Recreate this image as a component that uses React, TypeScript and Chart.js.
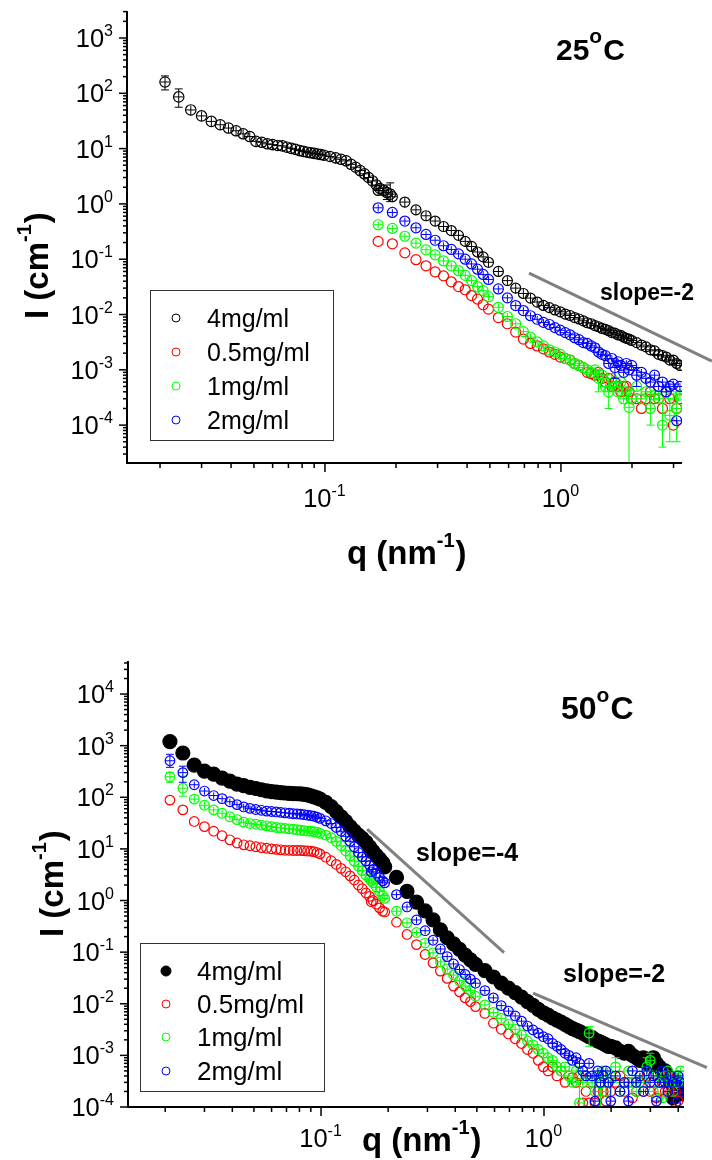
import React, { useEffect, useRef } from "react";
import { Chart, registerables } from "chart.js";
Chart.register(...registerables);

const FONT = '"Liberation Sans", Arial, Helvetica, sans-serif';

// ---------- data ----------
const qLow = [
  0.021, 0.024, 0.027, 0.030, 0.033, 0.036, 0.039, 0.042, 0.045, 0.048,
  0.051, 0.054, 0.057, 0.060, 0.063, 0.066, 0.069, 0.072, 0.075, 0.078,
  0.081, 0.084, 0.087, 0.090, 0.093, 0.096, 0.099, 0.105, 0.111, 0.117,
  0.123, 0.129, 0.135, 0.141, 0.147, 0.153, 0.159, 0.165, 0.171, 0.177,
  0.183, 0.189,
];
const qHigh = [
  0.168, 0.193, 0.218, 0.243, 0.268, 0.293, 0.318, 0.343, 0.368, 0.393,
  0.418, 0.443, 0.468, 0.493, 0.543, 0.593, 0.643, 0.693, 0.743, 0.793,
  0.843, 0.893, 0.943, 0.993, 1.043, 1.093, 1.143, 1.193, 1.243, 1.293,
  1.343, 1.393, 1.443, 1.493, 1.543, 1.593, 1.643, 1.693, 1.743, 1.793,
  1.843, 1.893, 1.943, 1.993, 2.093, 2.193, 2.293, 2.393, 2.493, 2.593,
  2.693, 2.793, 2.893, 2.993, 3.093, 3.193,
  3.293, 3.393, 3.493, 3.593, 3.693, 3.793, 3.893, 3.993, 4.093, 4.193,
];

// 25 °C
const top4Low = [
  160, 86, 50, 39, 31, 27, 23.5, 21, 18.5, 16.5,
  13.5, 13, 12.2, 11.8, 11.4, 11.2, 10.6, 10.1, 9.7, 9.2,
  8.9, 8.6, 8.4, 8.2, 8.0, 7.8, 7.6, 7.2, 6.8, 6.4,
  6.0, 5.2, 4.6, 4.0, 3.5, 3.0, 2.6, 2.2, 1.9, 1.75,
  1.6, 1.5,
];
const top4High = [
  1.75, 1.35, 1.08, 0.78, 0.61, 0.49, 0.39, 0.33, 0.27, 0.21,
  0.17, 0.135, 0.11, 0.088, 0.060, 0.041, 0.030, 0.024, 0.0198, 0.0168,
  0.0146, 0.0133, 0.0121, 0.0112, 0.0102, 0.0096, 0.0088, 0.0083, 0.0077, 0.0071,
  0.0068, 0.0063, 0.0060, 0.0056, 0.0054, 0.0051, 0.0047, 0.0046, 0.0043, 0.0042,
  0.0039, 0.0037, 0.0036, 0.0034, 0.0031, 0.0028, 0.0026, 0.0023, 0.0022, 0.0019,
  0.0018, 0.0017, 0.0015, 0.0015, 0.0013, 0.0012,
];
const top05High = [
  0.21, 0.19, 0.13, 0.098, 0.076, 0.059, 0.050, 0.039, 0.032, 0.028,
  0.022, 0.019, 0.015, 0.0125, 0.0088, 0.0068, 0.0048, 0.0036, 0.0030, 0.0027,
  0.0024, 0.0021, 0.0019, 0.0017, 0.0016, 0.0015, 0.0013, 0.0012, 0.0011, 0.0009,
  0.00085, 0.0008, 0.0009, 0.0007, 0.0006, 0.0007, 0.0005, 0.0006, 0.0005, 0.0004,
  0.0005, 0.0005, 0.0004, 0.0003, 0.0003, 0.0002, 0.0003, 0.0004, 0.0003, 0.0003,
  0.0002, 0.0004, 0.0003, 0.0001, 0.0002, 0.0003,
];
const top1High = [
  0.42, 0.36, 0.26, 0.195, 0.148, 0.12, 0.093, 0.076, 0.062, 0.051,
  0.041, 0.032, 0.027, 0.021, 0.0135, 0.0092, 0.0068, 0.0049, 0.0039, 0.0032,
  0.0027, 0.0023, 0.0021, 0.0019, 0.0016, 0.0015, 0.0013, 0.0012, 0.0011, 0.0010,
  0.0009, 0.0010, 0.0007, 0.0008, 0.0005, 0.0004, 0.0007, 0.0005, 0.0004, 0.0006,
  0.0003, 0.0004, 0.00021, 0.0003, 0.0005, 0.0003, 0.0004, 0.0002, 0.00035, 0.0003,
  0.0001, 0.0004, 0.00015, 0.0003, 0.0002, 0.00035,
];
const top2High = [
  0.85, 0.70, 0.49, 0.37, 0.28, 0.22, 0.175, 0.15, 0.125, 0.10,
  0.082, 0.066, 0.053, 0.043, 0.029, 0.020, 0.0145, 0.0118, 0.0095, 0.0082,
  0.0072, 0.0066, 0.0058, 0.0052, 0.0047, 0.0043, 0.0038, 0.0035, 0.0031, 0.0030,
  0.0027, 0.0025, 0.0021, 0.0019, 0.0018, 0.0013, 0.0016, 0.0011, 0.0014, 0.0012,
  0.0009, 0.0013, 0.0010, 0.0012, 0.0008, 0.0009, 0.0007, 0.0006, 0.0008, 0.0005,
  0.0006, 0.0004, 0.0005, 0.00055, 0.00012, 0.0005,
];

// 50 °C
const bot4Low = [
  1200, 720, 420, 320, 280, 235, 205, 180, 168, 156,
  148, 140, 133, 129, 126, 123, 121, 119, 118, 117,
  116, 114, 111, 106, 102, 97, 92, 80, 66, 53,
  42, 34, 27, 22, 18.5, 16, 13.5, 11, 9, 7.5,
  6.4, 5.4,
];
const bot4High = [
  9.0, 4.5, 2.8, 1.5, 0.93, 0.63, 0.42, 0.27, 0.19, 0.145,
  0.113, 0.088, 0.071, 0.058, 0.044, 0.033, 0.025, 0.020, 0.0165, 0.0135,
  0.011, 0.0093, 0.0078, 0.0067, 0.0060, 0.0053, 0.0048, 0.0044, 0.0040, 0.0036,
  0.0033, 0.0031, 0.0029, 0.0027, 0.0025, 0.0023, 0.0022, 0.0020, 0.0019, 0.0018,
  0.0017, 0.0016, 0.0015, 0.0015, 0.0014, 0.0012, 0.0011, 0.0012, 0.0010, 0.0009,
  0.0008, 0.0009, 0.0007, 0.0008, 0.0009, 0.0007, 0.0006, 0.0005, 0.0005, 0.0004,
  0.0003, 0.00015, 0.0003, 0.0002, 0.00025, 0.00018,
];
const bot05Low = [
  88, 57, 34, 27, 22, 18, 15, 13, 12, 11.5,
  11, 10.6, 10.3, 10, 9.8, 9.6, 9.4, 9.4, 9.3, 9.3,
  9.3, 9.2, 9.1, 9.0, 8.8, 8.5, 8.0, 6.9, 5.9, 5.0,
  4.2, 3.6, 3.0, 2.5, 2.0, 1.7, 1.4, 1.2, 1.0, 0.85,
  0.72, 0.62,
];
const bot05High = [
  0.95, 0.6, 0.38, 0.22, 0.14, 0.09, 0.062, 0.043, 0.031, 0.022,
  0.017, 0.013, 0.011, 0.0088, 0.0065, 0.0042, 0.0032, 0.0026, 0.0021, 0.0017,
  0.0013, 0.0011, 0.0008, 0.0006, 0.0005, 0.0006, 0.0004, 0.0005, 0.0003, 0.0004,
  0.00037, 0.0003, 0.0004, 0.00012, 0.0002, 0.00012, 0.0003, 0.00012, 0.0002, 0.0003,
  0.0002, 0.00013, 0.0003, 0.0002, 0.0003, 0.0004, 0.0002, 0.0003, 0.00015, 0.0002,
  0.0003, 0.0002, 0.0004, 0.0002, 0.0003, 0.00015, 0.0002, 0.0003, 0.0002, 0.0004,
  0.0002, 0.0003, 0.0002, 0.00013, 0.0003, 0.0002,
];
const bot1Low = [
  250, 150, 92, 70, 57, 49, 42, 37, 33, 31,
  30, 29, 28, 27, 26, 25.5, 25, 24.5, 24, 23.5,
  23, 22.5, 22, 22, 21.5, 21, 20, 18.5, 16.5, 14,
  11.5, 9.2, 7.3, 5.8, 4.6, 3.8, 3.1, 2.6, 2.2, 1.8,
  1.5, 1.25,
];
const bot1High = [
  2.4, 1.1, 0.62, 0.37, 0.24, 0.15, 0.097, 0.065, 0.047, 0.036,
  0.028, 0.022, 0.018, 0.014, 0.0095, 0.0068, 0.0052, 0.0040, 0.0032, 0.0025,
  0.0019, 0.0016, 0.0013, 0.0011, 0.0009, 0.0008, 0.0006, 0.0005, 0.0006, 0.0004,
  0.0003, 0.0005, 0.00012, 0.0003, 0.0004, 0.0027, 0.0003, 0.0002, 0.0004, 0.0003,
  0.0005, 0.0002, 0.0003, 0.0004, 0.0006, 0.0002, 0.0003, 0.0005, 0.0003, 0.0002,
  0.0004, 0.0003, 0.0006, 0.0008, 0.0002, 0.0004, 0.0003, 0.00015, 0.0004, 0.0005,
  0.0003, 0.0002, 0.0004, 0.0003, 0.0005, 0.0004,
];
const bot2Low = [
  510, 300, 175, 132, 108, 94, 82, 72, 65, 61,
  58, 56, 54, 53, 52, 51, 50, 49, 48, 47.5,
  47, 46, 45, 44, 43, 41, 39, 35, 31, 26,
  22, 17.5, 14, 11, 8.5, 7, 5.8, 4.8, 4.0, 3.4,
  2.8, 2.4,
];
const bot2High = [
  3.6, 2.2, 1.3, 0.75, 0.42, 0.26, 0.17, 0.115, 0.082, 0.059,
  0.046, 0.037, 0.030, 0.025, 0.018, 0.013, 0.0092, 0.0072, 0.0058, 0.0046,
  0.0037, 0.0031, 0.0027, 0.0023, 0.0021, 0.0017, 0.0015, 0.0013, 0.0011, 0.0010,
  0.0008, 0.0009, 0.0007, 0.0005, 0.0004, 0.0007, 0.0004, 0.00013, 0.0005, 0.0003,
  0.0004, 0.0005, 0.0003, 0.00013, 0.0004, 0.0002, 0.0003, 0.00013, 0.0005, 0.0003,
  0.0004, 0.0002, 0.0005, 0.0003, 0.0004, 0.00013, 0.0003, 0.0005, 0.0003, 0.0002,
  0.0004, 0.0003, 0.00012, 0.0004, 0.0003, 0.0002,
];

// large error bars: [q, low, high]
const errTop4Low = [[0.021, 115, 206], [0.024, 56, 120], [0.183, 1.2, 2.2], [0.189, 1.1, 2.4]];
const errTop1 = [[1.443, 0.0004, 0.001], [1.593, 0.0002, 0.0007], [1.943, 0.000001, 0.00043], [2.393, 0.0001, 0.0004], [2.693, 0.00004, 0.00025], [2.893, 0.00005, 0.0003], [3.093, 0.00005, 0.0004]];
const errTop2 = [[1.693, 0.0007, 0.0015], [2.093, 0.0005, 0.0011]];
const errBot2Low = [[0.021, 380, 680], [0.024, 195, 400]];
const errBot1Low = [[0.021, 195, 300], [0.024, 105, 255]];
const errBot1High = [[1.593, 0.0015, 0.0036], [1.443, 0.00008, 0.0003], [2.093, 0.0003, 0.0009], [2.893, 0.0003, 0.0009], [2.993, 0.0005, 0.0011], [1.793, 0.0001, 0.0005]];
const errBot2High = [[1.693, 0.00008, 0.0004], [1.993, 0.00008, 0.0003], [2.393, 0.00008, 0.0003]];

// slope guide lines: [q, I]
const slopeTop2 = [[0.732, 0.0562], [4.36, 0.00144]];
const slopeBot4 = [[0.161, 24.2], [0.662, 0.0977]];
const slopeBot2 = [[0.893, 0.0161], [5.38, 0.00058]];

const seriesLabels = ["4mg/ml", "0.5mg/ml", "1mg/ml", "2mg/ml"];
const seriesColors = ["#000000", "#ff0000", "#00ff00", "#0000ff"];
const yExpsTop = [-4, -3, -2, -1, 0, 1, 2, 3];
const yExpsBot = [-4, -3, -2, -1, 0, 1, 2, 3, 4];
const xExps = [-1, 0];
const minorMultipliers = [2, 3, 4, 5, 6, 7, 8, 9];

// ---------- helpers ----------
const pts = (q: number[], v: number[]) => v.map((y, i) => ({ x: q[i], y }));

function sds(data: any[], color: string, o: any) {
  return {
    type: "scatter",
    data,
    showLine: false,
    clip: 0,
    pointStyle: "circle",
    pointRadius: o.r,
    pointHoverRadius: o.r,
    pointBorderWidth: 1.2,
    pointBorderColor: color,
    pointBackgroundColor: o.filled ? color : "rgba(0,0,0,0)",
    order: o.order,
    xErr: o.xErr || 0,
    yErr: o.yErr || 0,
    bigErr: o.bigErr || [],
  };
}

function drawErrorBars(chart: any, ds: any) {
  const ex = ds.xErr || 0, ey = ds.yErr || 0, big = ds.bigErr || [];
  if (!ex && !ey && !big.length) return;
  const { ctx, chartArea: a } = chart;
  const xs = chart.scales.x, ys = chart.scales.y;
  ctx.save();
  ctx.beginPath();
  ctx.rect(a.left, a.top, a.right - a.left, a.bottom - a.top);
  ctx.clip();
  ctx.strokeStyle = ds.pointBorderColor;
  ctx.lineWidth = 1;
  for (const p of ds.data) {
    const px = xs.getPixelForValue(p.x), py = ys.getPixelForValue(p.y);
    const b = big.find((e: number[]) => Math.abs(e[0] - p.x) < 1e-6);
    ctx.beginPath();
    if (b) {
      const y1 = ys.getPixelForValue(b[1]), y2 = ys.getPixelForValue(b[2]);
      ctx.moveTo(px, y1); ctx.lineTo(px, y2);
      ctx.moveTo(px - 4, y1); ctx.lineTo(px + 4, y1);
      ctx.moveTo(px - 4, y2); ctx.lineTo(px + 4, y2);
    } else if (ey) {
      ctx.moveTo(px, ys.getPixelForValue(p.y * (1 + ey)));
      ctx.lineTo(px, ys.getPixelForValue(p.y * (1 - ey)));
    }
    if (ex) {
      ctx.moveTo(xs.getPixelForValue(p.x * (1 - ex)), py);
      ctx.lineTo(xs.getPixelForValue(p.x * (1 + ex)), py);
    }
    ctx.stroke();
  }
  ctx.restore();
}

function richWidth(ctx: any, parts: any[], size: number, sup: number, weight: string) {
  let w = 0;
  for (const [t, s] of parts) {
    ctx.font = `${weight} ${s ? sup : size}px ${FONT}`;
    w += ctx.measureText(t).width;
  }
  return w;
}
function drawRich(ctx: any, parts: any[], x: number, y: number, size: number, sup: number, rise: number, weight: string) {
  let cx = x;
  ctx.textAlign = "left";
  ctx.textBaseline = "alphabetic";
  for (const [t, s] of parts) {
    ctx.font = `${weight} ${s ? sup : size}px ${FONT}`;
    ctx.fillText(t, cx, s ? y - rise : y);
    cx += ctx.measureText(t).width + (s ? 1 : 0);
  }
}

function drawDecor(chart: any, spec: any) {
  const { ctx, chartArea: a } = chart;
  const xs = chart.scales.x, ys = chart.scales.y;
  ctx.save();
  ctx.strokeStyle = "#000";
  ctx.fillStyle = "#000";

  // slope guide lines
  ctx.strokeStyle = "#808080";
  ctx.lineWidth = 3;
  for (const s of spec.slopes) {
    ctx.beginPath();
    ctx.moveTo(xs.getPixelForValue(s.line[0][0]), ys.getPixelForValue(s.line[0][1]));
    ctx.lineTo(xs.getPixelForValue(s.line[1][0]), ys.getPixelForValue(s.line[1][1]));
    ctx.stroke();
  }
  ctx.strokeStyle = "#000";

  // axes
  ctx.lineWidth = 2;
  ctx.beginPath();
  ctx.moveTo(a.left, a.top);
  ctx.lineTo(a.left, a.bottom);
  ctx.lineTo(a.right, a.bottom);
  ctx.stroke();

  ctx.lineWidth = 1.5;
  const yDec = [spec.yExps[0] - 1, ...spec.yExps];
  for (const d of yDec) for (const m of [1, ...minorMultipliers]) {
    const v = m * Math.pow(10, d);
    if (v < spec.yMin * 0.999 || v > spec.yMax) continue;
    const p = ys.getPixelForValue(v);
    const len = m === 1 ? 8 : 4;
    ctx.beginPath(); ctx.moveTo(a.left - len, p); ctx.lineTo(a.left, p); ctx.stroke();
  }
  const xDec = [spec.xExps[0] - 1, ...spec.xExps];
  for (const d of xDec) for (const m of [1, ...minorMultipliers]) {
    const v = m * Math.pow(10, d);
    if (v < spec.xMin || v > spec.xMax) continue;
    const p = xs.getPixelForValue(v);
    const len = m === 1 ? 9 : 5;
    ctx.beginPath(); ctx.moveTo(p, a.bottom); ctx.lineTo(p, a.bottom + len); ctx.stroke();
  }

  // tick labels
  const TS = 25.5, TSS = 16, TR = 11;
  for (const e of spec.yExps) {
    const p = ys.getPixelForValue(Math.pow(10, e));
    const parts = [["10", false], [String(e), true]];
    const w = richWidth(ctx, parts, TS, TSS, "normal") + 1;
    drawRich(ctx, parts, a.left - 13 - w, p + 9, TS, TSS, TR, "normal");
  }
  for (const e of spec.xExps) {
    const p = xs.getPixelForValue(Math.pow(10, e));
    const parts = [["10", false], [String(e), true]];
    const w = richWidth(ctx, parts, TS, TSS, "normal") + 1;
    drawRich(ctx, parts, p - w / 2, a.bottom + spec.xLabelGap, TS, TSS, TR, "normal");
  }

  // axis titles
  drawRich(ctx, [["q (nm", false], ["-1", true], [")", false]], spec.xTitle[0], spec.xTitle[1], 33, 20, 17, "bold");
  ctx.save();
  ctx.translate(spec.yTitle[0], spec.yTitle[1]);
  ctx.rotate(-Math.PI / 2);
  drawRich(ctx, [["I (cm", false], ["-1", true], [")", false]], 0, 0, 33, 20, 17, "bold");
  ctx.restore();

  // temperature label
  drawRich(ctx, [[spec.temp.t, false], ["o", true], ["C", false]], spec.temp.x, spec.temp.y, spec.temp.size, 21, 17, "bold");

  // slope labels
  for (const s of spec.slopes) {
    ctx.font = `bold ${s.size}px ${FONT}`;
    ctx.textAlign = "left";
    ctx.fillText(s.label, s.lx, s.ly);
  }

  // legend
  const L = spec.legend;
  ctx.strokeStyle = "#333";
  ctx.lineWidth = 1;
  ctx.strokeRect(L.box[0] + 0.5, L.box[1] + 0.5, L.box[2], L.box[3]);
  seriesLabels.forEach((lab, i) => {
    const yy = L.ys[i];
    ctx.beginPath();
    const filled = L.filled[i];
    ctx.arc(L.mx, yy, filled ? L.rf : L.r, 0, Math.PI * 2);
    if (filled) { ctx.fillStyle = seriesColors[i]; ctx.fill(); }
    ctx.strokeStyle = seriesColors[i];
    ctx.stroke();
    ctx.fillStyle = "#000";
    ctx.font = `${L.size}px ${FONT}`;
    ctx.textAlign = "left";
    ctx.textBaseline = "alphabetic";
    ctx.fillText(lab, L.tx, yy + 8.5);
  });
  ctx.restore();
}

function buildConfig(spec: any, datasets: any[]) {
  return {
    type: "scatter",
    data: { datasets },
    options: {
      responsive: false,
      animation: false,
      devicePixelRatio: 1,
      events: [],
      layout: { padding: spec.pad },
      scales: {
        x: { type: "logarithmic", min: spec.xMin, max: spec.xMax, display: false },
        y: { type: "logarithmic", min: spec.yMin, max: spec.yMax, display: false },
      },
      plugins: { legend: { display: false }, tooltip: { enabled: false }, title: { display: false } },
    },
    plugins: [
      {
        id: "decor",
        afterDatasetDraw(chart: any, args: any) {
          drawErrorBars(chart, chart.data.datasets[args.index]);
        },
        afterDraw(chart: any) {
          drawDecor(chart, spec);
        },
      },
    ],
  } as any;
}

const topSpec = {
  pad: { left: 127, top: 11, right: 30, bottom: 117 },
  xMin: 0.01449, xMax: 3.258, yMin: 2.065e-5, yMax: 3076,
  yExps: yExpsTop, xExps, xLabelGap: 44,
  xTitle: [347, 564], yTitle: [48, 319],
  temp: { t: "25", x: 556, y: 60, size: 30 },
  slopes: [{ line: slopeTop2, label: "slope=-2", lx: 600, ly: 300, size: 23 }],
  legend: { box: [150, 290, 183, 150], mx: 176, tx: 207, ys: [318, 352, 386, 420], r: 4, rf: 4, size: 25, filled: [false, false, false, false] },
};
const botSpec = {
  pad: { left: 128, top: 81, right: 28, bottom: 53 },
  xMin: 0.01362, xMax: 4.246, yMin: 1e-4, yMax: 43650,
  yExps: yExpsBot, xExps, xLabelGap: 40,
  xTitle: [362, 571], yTitle: [63, 357],
  temp: { t: "50", x: 561, y: 139, size: 32 },
  slopes: [
    { line: slopeBot4, label: "slope=-4", lx: 416, ly: 281, size: 25 },
    { line: slopeBot2, label: "slope=-2", lx: 563, ly: 402, size: 25 },
  ],
  legend: { box: [140, 363, 184, 148], mx: 166, tx: 197, ys: [391, 424, 457, 491], r: 4, rf: 5, size: 26, filled: [true, false, false, false] },
};

function topDatasets() {
  return [
    sds(pts(qHigh, top2High), seriesColors[3], { r: 5, order: 1, xErr: 0.045, yErr: 0.15, bigErr: errTop2 }),
    sds(pts(qHigh, top1High), seriesColors[2], { r: 5, order: 2, xErr: 0.045, yErr: 0.15, bigErr: errTop1 }),
    sds(pts(qHigh, top05High), seriesColors[1], { r: 5, order: 3 }),
    sds(pts(qHigh, top4High), seriesColors[0], { r: 5, order: 4, xErr: 0.045, yErr: 0.2 }),
    sds(pts(qLow, top4Low), seriesColors[0], { r: 5.2, order: 5, xErr: 0.045, yErr: 0.2, bigErr: errTop4Low }),
  ];
}
function botDatasets() {
  return [
    sds(pts(qHigh, bot2High), seriesColors[3], { r: 4.8, order: 1, xErr: 0.048, yErr: 0.15, bigErr: errBot2High }),
    sds(pts(qLow, bot2Low), seriesColors[3], { r: 4.8, order: 2, xErr: 0.048, yErr: 0.15, bigErr: errBot2Low }),
    sds(pts(qHigh, bot1High), seriesColors[2], { r: 4.8, order: 3, xErr: 0.048, yErr: 0.15, bigErr: errBot1High }),
    sds(pts(qLow, bot1Low), seriesColors[2], { r: 4.8, order: 4, xErr: 0.048, yErr: 0.15, bigErr: errBot1Low }),
    sds(pts(qHigh, bot05High), seriesColors[1], { r: 4.8, order: 5 }),
    sds(pts(qLow, bot05Low), seriesColors[1], { r: 4.8, order: 6 }),
    sds(pts(qHigh, bot4High), seriesColors[0], { r: 7, order: 7, filled: true }),
    sds(pts(qLow, bot4Low), seriesColors[0], { r: 7, order: 8, filled: true }),
  ];
}

export default function App() {
  const topRef = useRef<HTMLCanvasElement>(null);
  const botRef = useRef<HTMLCanvasElement>(null);
  useEffect(() => {
    document.body.style.margin = "0";
    const c1 = new Chart(topRef.current as HTMLCanvasElement, buildConfig(topSpec, topDatasets()));
    const c2 = new Chart(botRef.current as HTMLCanvasElement, buildConfig(botSpec, botDatasets()));
    return () => {
      c1.destroy();
      c2.destroy();
    };
  }, []);
  return (
    <div style={{ width: 712, height: 1160, background: "#fff", overflow: "hidden" }}>
      <canvas ref={topRef} width={712} height={580} style={{ display: "block", width: 712, height: 580 }} />
      <canvas ref={botRef} width={712} height={580} style={{ display: "block", width: 712, height: 580 }} />
    </div>
  );
}
